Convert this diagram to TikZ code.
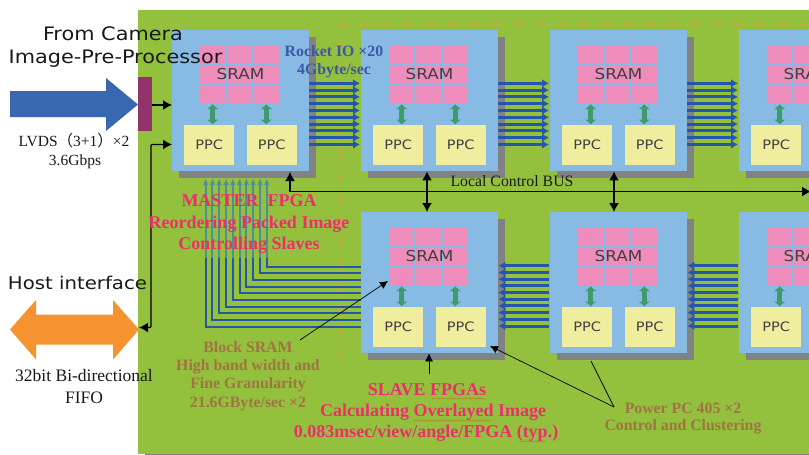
\documentclass[tikz,border=0pt]{standalone}
\usepackage{fontspec}
\setmainfont{Liberation Serif}
\newfontfamily\vsans[FakeStretch=1.12]{DejaVu Sans}
\newfontfamily\cjkp{Noto Sans CJK SC}
\usetikzlibrary{arrows.meta,calc,decorations.pathmorphing}
\definecolor{bggreen}{HTML}{93C13E}
\definecolor{blk}{HTML}{88BBE3}
\definecolor{shad}{HTML}{808285}
\definecolor{sram}{HTML}{EE8DBB}
\definecolor{ppc}{HTML}{F0EE9E}
\definecolor{gar}{HTML}{3F9A6E}
\definecolor{rio}{HTML}{2456AE}
\definecolor{tealline}{HTML}{4F8F9A}
\definecolor{bigblue}{HTML}{3A68B0}
\definecolor{purp}{HTML}{93336B}
\definecolor{orng}{HTML}{F59331}
\definecolor{hot}{HTML}{EC2F6C}
\definecolor{brn}{HTML}{A37243}
\definecolor{navy}{HTML}{3F55A8}
\definecolor{dots}{HTML}{D9A648}
\tikzset{
  x=1pt,y=-1pt,
  fpgabox/.style={fill=blk,draw=none,minimum width=137pt,minimum height=141pt,anchor=north west,inner sep=0},
  shadowbox/.style={fill=shad,draw=none,minimum width=137pt,minimum height=141pt,anchor=north west,inner sep=0},
  cell/.style={fill=sram,draw=none,minimum width=25pt,minimum height=18.8pt,anchor=north west,inner sep=0},
  ppcbox/.style={fill=ppc,draw=none,minimum width=50pt,minimum height=40.5pt,anchor=north west,inner sep=0,font=\vsans\fontsize{13}{14}\selectfont,text=black!75},
  sramlbl/.style={font=\vsans\fontsize{15}{16}\selectfont,text=black!75,inner sep=0},
  gdbl/.style={draw=gar,line width=5.4pt,{Latex[width=12.5pt,length=5pt]}-{Latex[width=12.5pt,length=5pt]}},
  rocket/.style={draw=rio,line width=3pt,-{Latex[width=8.5pt,length=7pt]}},
  slaveline/.style={draw=rio,line width=2pt},
  tealup/.style={draw=tealline,line width=2pt,-{Latex[width=5.5pt,length=7pt]}},
  blackarr/.style={draw=black,line width=1.4pt,-{Latex[width=10pt,length=9pt]}},
  blackdbl/.style={draw=black,line width=1.4pt,{Latex[width=10pt,length=9pt]}-{Latex[width=10pt,length=9pt]}},
  thinarr/.style={draw=black,line width=0.7pt,-{Latex[width=8pt,length=8pt]}},
  hotlbl/.style={font=\bfseries\fontsize{18}{19}\selectfont,text=hot,inner sep=0},
  brnlbl/.style={font=\bfseries\fontsize{15.8}{16}\selectfont,text=brn,inner sep=0},
  navylbl/.style={font=\bfseries\fontsize{15.8}{16}\selectfont,text=navy,inner sep=0},
  seriflbl/.style={font=\fontsize{17.5}{18}\selectfont,inner sep=0,text=black!90},
  sanslbl/.style={font=\vsans\fontsize{18.6}{20}\selectfont,inner sep=0,text=black!90},
  squig/.style={draw=red!70!brn,opacity=0.45,line width=0.3pt,decorate,decoration={snake,amplitude=0.6pt,segment length=2.5pt}},
}
\newcommand{\fpga}[3]{%
  \node[shadowbox] (#1sh) at (#2+7,#3+7) {};
  \node[fpgabox] (#1) at (#2,#3) {};
  \foreach \c/\dx in {0/28,1/54.8,2/81.6} \foreach \r/\dy in {0/15,1/35,2/55}
    \node[cell] (#1c\c\r) at (#2+\dx,#3+\dy) {};
  \node[sramlbl] at (#2+68.5,#3+44) {SRAM};
  \node[ppcbox] (#1p) at (#2+12,#3+94.5) {PPC};
  \node[ppcbox] (#1q) at (#2+74.5,#3+94.5) {PPC};
  \draw[gdbl] (#1c02.south) -- (#1p.north -| #1c02.south);
  \draw[gdbl] (#1c22.south) -- (#1q.north -| #1c22.south);
}
\begin{document}
\begin{tikzpicture}
\clip (0,0) rectangle (809,455);
\useasboundingbox (0,0) rectangle (809,455);
\fill[white] (0,0) rectangle (809,455);
\fill[bggreen] (138,10) rectangle (809,454);
\draw[shad,line width=0.6pt] (145,454.5) -- (809,454.5);
\draw[dots,opacity=0.8,line width=0.5pt,dash pattern=on 0.7pt off 1.5pt] (809,24) -- (340.5,24) -- (340.5,367) -- (809,367);

\fpga{ma}{172}{30}
\fpga{tb}{361}{30}
\fpga{tc}{550}{30}
\fpga{td}{739}{30}
\fpga{bb}{361}{212}
\fpga{bc}{550}{212}
\fpga{bd}{739}{212}

% input side
\fill[bigblue] (10,91) -- (106,91) -- (106,78) -- (138,104.5) -- (106,131) -- (106,117) -- (10,117) -- cycle;
\node[fill=purp,minimum width=13.5pt,minimum height=54pt,inner sep=0,anchor=north west] (pp) at (138,77) {};
\fill[orng] (10,329.5) -- (36,300) -- (36,314.5) -- (113,314.5) -- (113,300) -- (139,329.5) -- (113,359.5) -- (113,344.5) -- (36,344.5) -- (36,359.5) -- cycle;
\coordinate (hostp) at (139,327.5);
\coordinate (mal) at (172,144.5);
\draw[blackarr] (pp.east |- 0,105) -- (ma.west |- 0,105);
\draw[blackdbl,rounded corners=1pt] (mal) -- (151,144.5) -- (151,327.5) -- (hostp);

% rocket IO
\foreach \i [evaluate=\i as \y using 83.3+6.8*\i] in {0,...,9} {
  \draw[rocket] (ma.east |- 0,\y) -- ($(tb.west |- 0,\y)+(-1,0)$);
  \draw[rocket] (tb.east |- 0,\y) -- ($(tc.west |- 0,\y)+(-1,0)$);
  \draw[rocket] (tc.east |- 0,\y) -- ($(td.west |- 0,\y)+(-1,0)$);
}
\foreach \i [evaluate=\i as \y using 265.7+6.7*\i] in {0,...,9} {
  \draw[rocket] ($(bc.west |- 0,\y)+(-1,0)$) -- (bb.east |- 0,\y);
  \draw[rocket] ($(bd.west |- 0,\y)+(-1,0)$) -- (bc.east |- 0,\y);
}
% slave to master lines
\foreach \i [evaluate=\i as \x using 205.7+6.78*\i, evaluate=\i as \y using 326.7-6.67*\i] in {0,...,9} {
  \draw[slaveline] (bb.west |- 0,\y) -- (\x,\y) -- (\x,258);
  \draw[tealup] (\x,258) -- (\x,178);
}

% bus
\coordinate (busr) at (811,191.5);
\coordinate (buscorner) at (290,191.5);
\coordinate (mabus) at (290,172);
\draw[blackdbl] (mabus) -- (buscorner) -- (busr);
\draw[blackdbl] (tb.south -| 427,0) -- (bb.north -| 427,0);
\draw[blackdbl] (tc.south -| 614,0) -- (bc.north -| 614,0);

% annotation arrows
\coordinate (a1) at (300,340);
\coordinate (a2) at (388,281);
\coordinate (a3) at (429,374);
\coordinate (a4) at (614,407);
\coordinate (a5) at (591,361);
\coordinate (a6) at (490,346);
\draw[thinarr] (a1) -- (a2);
\draw[thinarr] (a3) -- (bb.south -| 429,0);
\draw[thinarr] (a4) -- (a6);
\draw[line width=0.7pt] (a4) -- (a5);

% labels
\node[sanslbl] (t1) at (113,34) {From Camera};
\node[sanslbl] (t2) at (115.5,59) {Image-Pre-Processor};
\node[seriflbl,font=\fontsize{15.5}{16}\selectfont] (t3) at (74,141) {LVDS{\cjkp （}3+1{\cjkp ）}×2};
\node[seriflbl,font=\fontsize{15.5}{16}\selectfont] (t4) at (75,162) {3.6Gbps};
\node[sanslbl,font=\vsans\fontsize{17.6}{18}\selectfont] (t5) at (77.5,283) {Host interface};
\node[seriflbl] (t6) at (84,376) {32bit Bi-directional};
\node[seriflbl] (t7) at (84,398) {FIFO};
\node[navylbl] (t8) at (334,51) {Rocket IO ×20};
\node[navylbl] (t9) at (334,71) {4Gbyte/sec};
\node[hotlbl] (t10) at (249,201) {MASTER\ \ FPGA};
\node[hotlbl] (t11) at (249,224) {Reordering Packed Image};
\node[hotlbl] (t12) at (249,245) {Controlling Slaves};
\node[seriflbl,font=\fontsize{15.8}{16}\selectfont] (t13) at (512,181) {Local Control BUS};
\node[brnlbl] (t14) at (248,347) {Block SRAM};
\node[brnlbl] (t15) at (248,367) {High band width and};
\node[brnlbl] (t16) at (248,385) {Fine Granularity};
\node[brnlbl] (t17) at (248,404) {21.6GByte/sec ×2};
\node[hotlbl] (t18) at (427,390) {SLAVE FPGAs};
\node[hotlbl] (t19) at (433,412) {Calculating Overlayed Image};
\node[hotlbl] (t20) at (426,433) {0.083msec/view/angle/FPGA (typ.)};
\node[brnlbl] (t21) at (683,408) {Power PC 405 ×2};
\node[brnlbl] (t22) at (683,427) {Control and Clustering};
\draw[squig] (432,398.5) -- (486,398.5);
\draw[squig] (413,420.5) -- (491,420.5);
\draw[squig] (519,441.5) -- (547,441.5);
\end{tikzpicture}
\end{document}
